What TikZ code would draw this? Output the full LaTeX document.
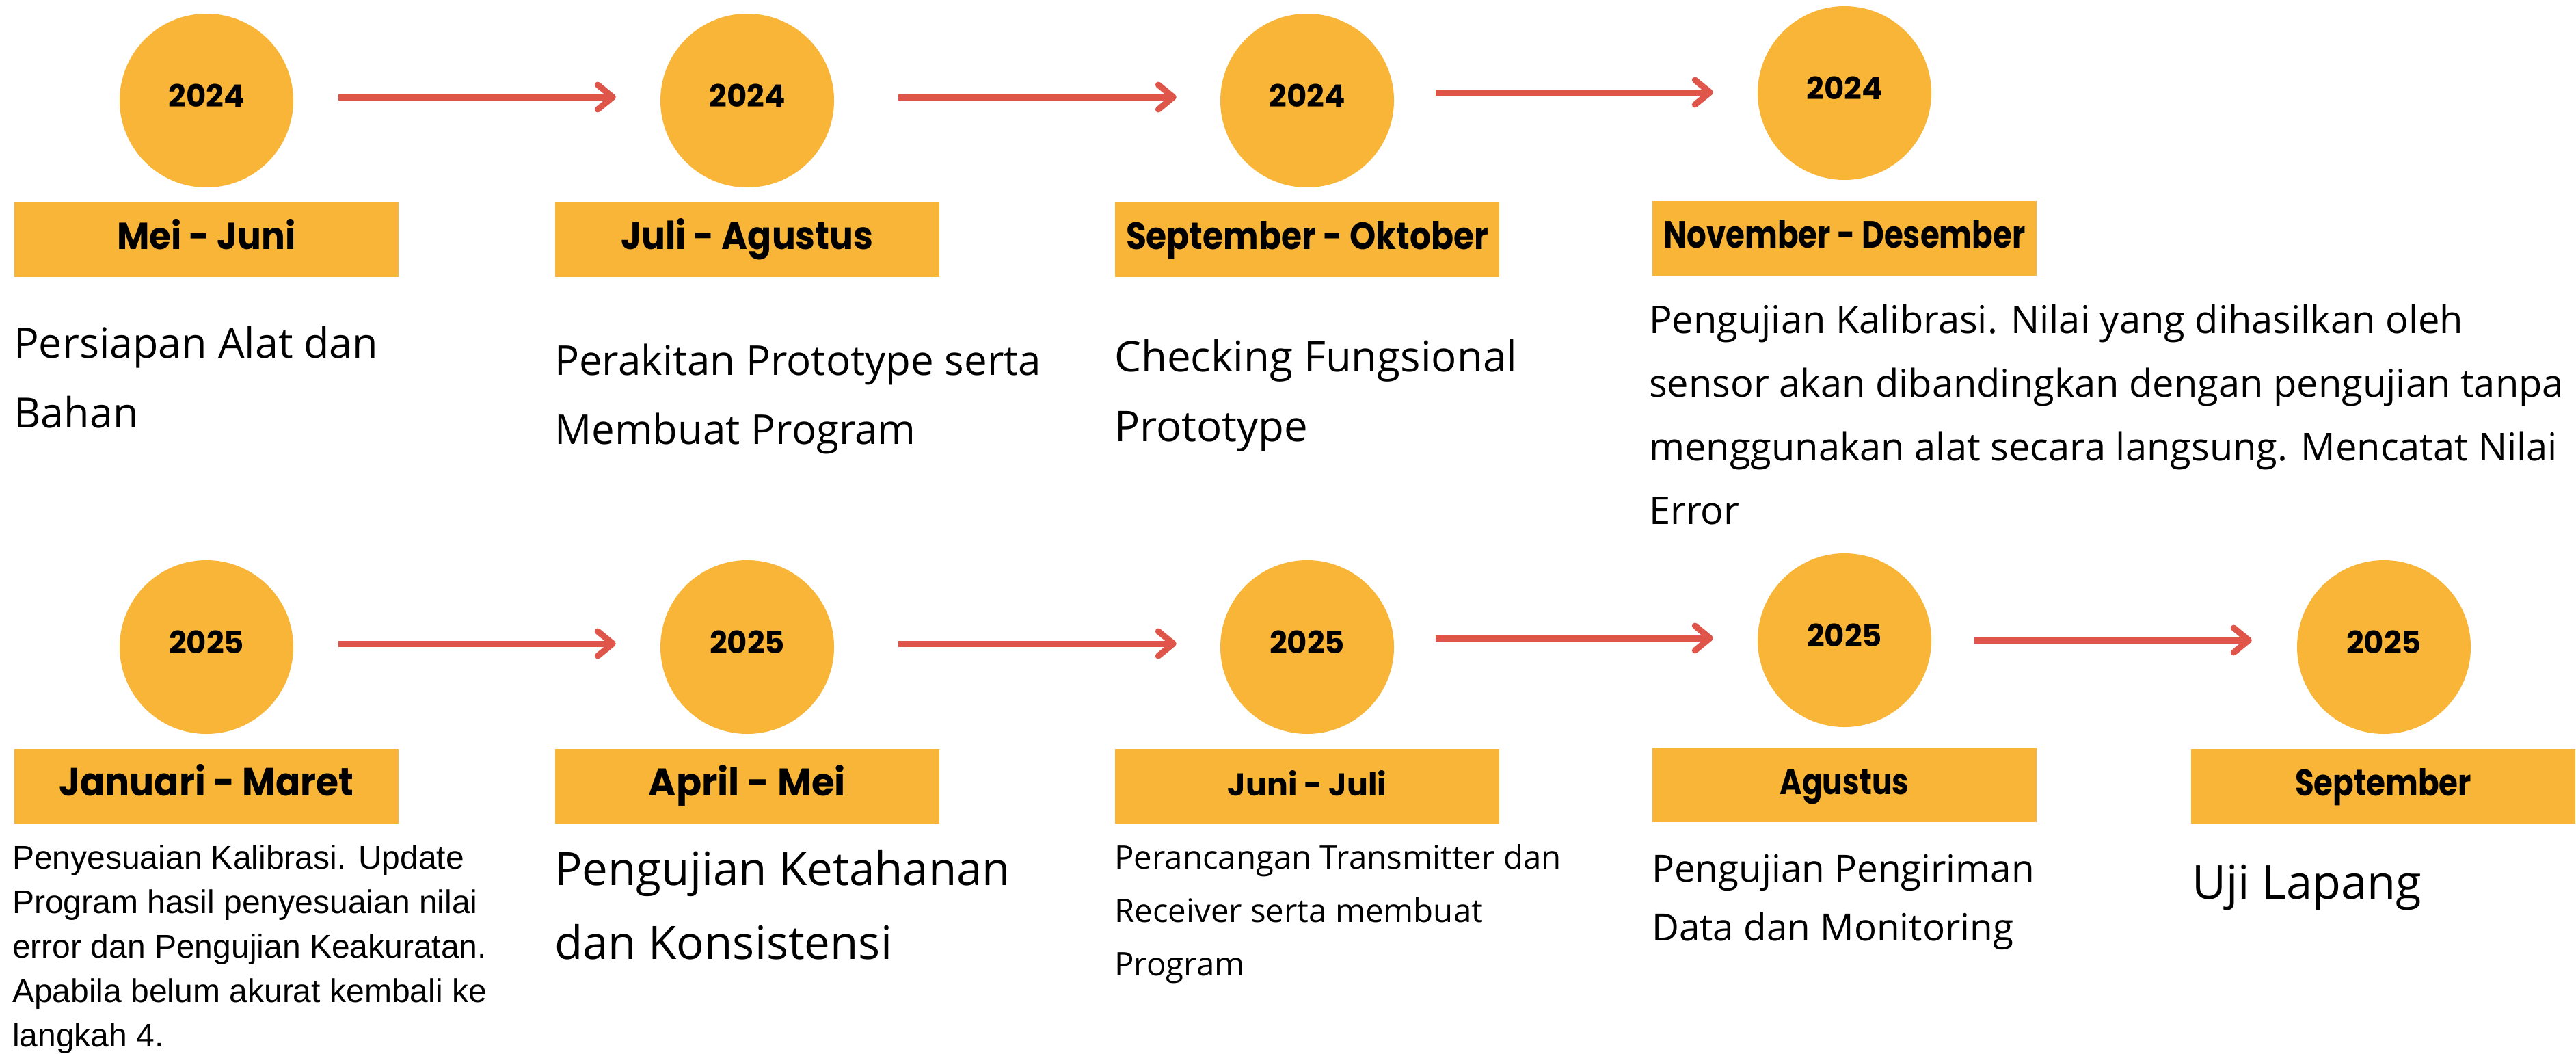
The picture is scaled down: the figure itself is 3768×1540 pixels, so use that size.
\documentclass[tikz,border=0pt]{standalone}
\usepackage{fontspec}
\usepackage{graphicx}
\setmainfont{Open Sans}
\newfontfamily\poppins{Poppins}
\newfontfamily\arialf{Liberation Sans}
\usetikzlibrary{arrows.meta}
\definecolor{tlorange}{HTML}{F9B537}
\definecolor{tlred}{HTML}{E0554A}
\newcommand\fitlabel[3]{\resizebox{#1pt}{#2pt}{\poppins\bfseries #3}}
\newcommand\dstrut{\rule{0pt}{0.8em}}
\begin{document}
\begin{tikzpicture}[x=1pt,y=-1pt,
  yr/.style={circle, fill=tlorange, minimum size=254pt, inner sep=0pt,
    font=\poppins\bfseries\fontsize{45}{54}\selectfont, text height=18pt, text depth=0pt},
  mon/.style={rectangle, fill=tlorange, minimum width=562pt, minimum height=109pt, inner sep=0pt,
    text height=28pt, text depth=0pt},
  conn/.style={draw=tlred, line width=9pt,
    -{Straight Barb[length=22pt,width=36pt,line cap=round,line join=round]}},
  desc/.style={anchor=north west, align=left, inner sep=0pt}]
\useasboundingbox (0,0) rectangle (3768,1540);
\fill[white] (0,0) rectangle (3768,1540);

% row 1 circles
\node[yr] (c1) at (302,147) {2024};
\node[yr] (c2) at (1093,147) {2024};
\node[yr] (c3) at (1912,147) {2024};
\node[yr] (c4) at (2698,136) {2024};
% row 2 circles
\node[yr] (k1) at (302,946) {2025};
\node[yr] (k2) at (1093,946) {2025};
\node[yr] (k3) at (1912,946) {2025};
\node[yr] (k4) at (2698,936) {2025};
\node[yr] (k5) at (3487,946) {2025};

% row 1 month boxes
\node[mon] (m1) at (302,350) {\fitlabel{261}{44}{Mei - Juni}};
\node[mon] (m2) at (1093,350) {\fitlabel{369}{45}{Juli - Agustus}};
\node[mon] (m3) at (1912,350) {\fitlabel{530}{41}{September - Oktober}};
\node[mon] (m4) at (2698,348) {\fitlabel{529}{41}{November - Desember}};
% row 2 month boxes
\node[mon] (n1) at (302,1149) {\fitlabel{431}{46}{Januari - Maret}};
\node[mon] (n2) at (1093,1149) {\fitlabel{288}{45}{April - Mei}};
\node[mon] (n3) at (1912,1149) {\fitlabel{232}{37}{Juni - Juli}};
\node[mon] (n4) at (2698,1147) {\fitlabel{189}{37}{Agustus}};
\node[mon] (n5) at (3486,1149) {\fitlabel{258}{40}{September}};

% arrows row 1
\coordinate (a1s) at ([yshift=5pt]c1.east);
\coordinate (a2s) at ([yshift=5pt]c2.east);
\coordinate (a3s) at ([yshift=12pt]c3.east);
\draw[conn, shorten <=66pt, shorten >=65pt] (a1s) -- (a1s -| c2.west);
\draw[conn, shorten <=94pt, shorten >=64pt] (a2s) -- (a2s -| c3.west);
\draw[conn, shorten <=61pt, shorten >=65pt] (a3s) -- (a3s -| c4.west);
% arrows row 2
\coordinate (b1s) at ([yshift=5pt]k1.east);
\coordinate (b2s) at ([yshift=5pt]k2.east);
\coordinate (b3s) at ([yshift=13pt]k3.east);
\coordinate (b4s) at ([yshift=0pt]k4.east);
\draw[conn, shorten <=66pt, shorten >=65pt] (b1s) -- (b1s -| k2.west);
\draw[conn, shorten <=94pt, shorten >=64pt] (b2s) -- (b2s -| k3.west);
\draw[conn, shorten <=61pt, shorten >=65pt] (b3s) -- (b3s -| k4.west);
\draw[conn, shorten <=63pt, shorten >=66pt] (b4s) -- (b4s -| k5.west);

% descriptions row 1
\node[desc, font=\fontsize{61}{102}\selectfont] (d1) at (20,474.2)
  {\dstrut Persiapan Alat dan\\Bahan};
\node[desc, font=\fontsize{60}{101}\selectfont] (d2) at (811,500)
  {\dstrut Perakitan Prototype serta\\Membuat Program};
\node[desc, font=\fontsize{61.8}{102}\selectfont] (d3) at (1630,493.6)
  {\dstrut Checking Fungsional\\Prototype};
\node[desc, font=\fontsize{56}{93}\selectfont] (d4) at (2412,442.2)
  {\dstrut Pengujian Kalibrasi. Nilai yang dihasilkan oleh\\sensor akan dibandingkan dengan pengujian tanpa\\menggunakan alat secara langsung. Mencatat Nilai\\Error};
% descriptions row 2
\node[desc, font=\arialf\fontsize{48}{65}\selectfont] (e1) at (18,1231.6)
  {\dstrut Penyesuaian Kalibrasi. Update\\Program hasil penyesuaian nilai\\error dan Pengujian Keakuratan.\\Apabila belum akurat kembali ke\\langkah 4.};
\node[desc, font=\fontsize{67.3}{108}\selectfont] (e2) at (811,1240.2)
  {\dstrut Pengujian Ketahanan\\dan Konsistensi};
\node[desc, font=\fontsize{47.4}{78}\selectfont] (e3) at (1630,1232.1)
  {\dstrut Perancangan Transmitter dan\\Receiver serta membuat\\Program};
\node[desc, font=\fontsize{54.8}{86}\selectfont] (e4) at (2416,1245.2)
  {\dstrut Pengujian Pengiriman\\Data dan Monitoring};
\node[desc, font=\fontsize{68.5}{80}\selectfont] (e5) at (3206,1259.2)
  {\dstrut Uji Lapang};
\end{tikzpicture}
\end{document}
